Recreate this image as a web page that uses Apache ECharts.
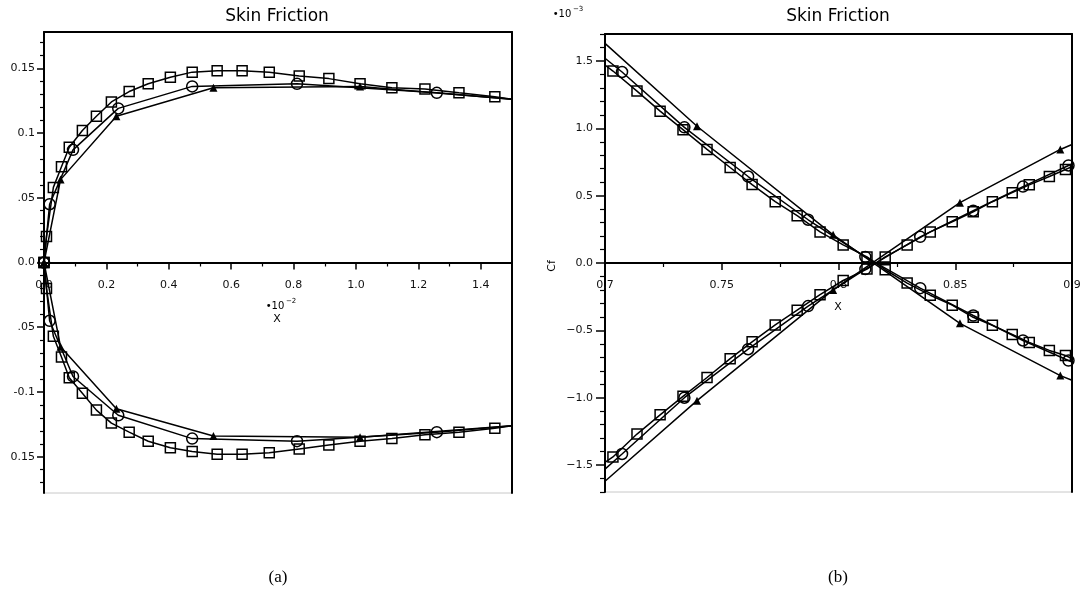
<!DOCTYPE html>
<html>
<head>
<meta charset="utf-8">
<script src="https://cdn.jsdelivr.net/npm/echarts@6/dist/echarts.min.js"></script>
<style>
  html, body { margin: 0; padding: 0; background: #fff; }
  #chart { width: 1086px; height: 610px; }
</style>
</head>
<body>
<div id="chart"></div>
<script>
// (a) skin friction vs x (*10^-2), fine / medium / coarse grid
const aFineX = [0, 0.008, 0.030, 0.056, 0.081, 0.123, 0.168, 0.216, 0.273, 0.334, 0.405, 0.475, 0.555, 0.635, 0.722, 0.818, 0.913, 1.013, 1.115, 1.221, 1.330, 1.445, 1.5];
const aFineUp = [0, 0.020, 0.058, 0.074, 0.089, 0.102, 0.113, 0.124, 0.132, 0.138, 0.143, 0.147, 0.148, 0.148, 0.147, 0.144, 0.142, 0.138, 0.135, 0.134, 0.131, 0.128, 0.126];
const aFineLo = [0, -0.020, -0.057, -0.073, -0.089, -0.101, -0.114, -0.124, -0.131, -0.138, -0.143, -0.146, -0.148, -0.148, -0.147, -0.144, -0.141, -0.138, -0.136, -0.133, -0.131, -0.128, -0.126];
const aMedX = [0, 0.018, 0.093, 0.238, 0.475, 0.811, 1.259, 1.5];
const aMedUp = [0, 0.045, 0.087, 0.119, 0.136, 0.138, 0.131, 0.126];
const aMedLo = [0, -0.045, -0.088, -0.118, -0.136, -0.138, -0.131, -0.126];
const aCoarseX = [0, 0.053, 0.232, 0.543, 1.013, 1.5];
const aCoarseUp = [0, 0.064, 0.113, 0.135, 0.136, 0.126];
const aCoarseLo = [0, -0.065, -0.113, -0.134, -0.135, -0.126];

// (b) zoom near x = 0.8 (Cf *10^-3)
const bFineX = [0.7, 0.7034, 0.7137, 0.7236, 0.7334, 0.7437, 0.7536, 0.763, 0.7729, 0.7823, 0.7921, 0.802, 0.8122, 0.82, 0.8294, 0.8393, 0.8487, 0.8577, 0.8659, 0.8744, 0.8817, 0.8903, 0.8972, 0.9];
const bFineDown = [1.47, 1.425, 1.276, 1.127, 0.99, 0.843, 0.709, 0.582, 0.455, 0.351, 0.231, 0.134, 0.045, -0.05, -0.149, -0.239, -0.313, -0.403, -0.463, -0.53, -0.59, -0.649, -0.687, -0.71];
const bFineRise = [-1.48, -1.44, -1.27, -1.127, -0.99, -0.85, -0.71, -0.585, -0.46, -0.35, -0.235, -0.13, -0.045, 0.045, 0.134, 0.231, 0.306, 0.38, 0.455, 0.522, 0.58, 0.642, 0.694, 0.715];
const bMedX = [0.7, 0.7073, 0.734, 0.7613, 0.787, 0.8115, 0.835, 0.8577, 0.879, 0.8985, 0.9];
const bMedDown = [1.52, 1.418, 1.007, 0.642, 0.321, 0.045, -0.187, -0.39, -0.575, -0.724, -0.735];
const bMedRise = [-1.53, -1.418, -1.0, -0.64, -0.32, -0.045, 0.194, 0.388, 0.567, 0.724, 0.735];
const bCoarseX = [0.7, 0.7394, 0.7977, 0.852, 0.895, 0.9];
const bCoarseDown = [1.63, 1.015, 0.209, -0.448, -0.836, -0.87];
const bCoarseRise = [-1.62, -1.022, -0.2, 0.448, 0.843, 0.88];

// tick labels
const aYTicks = [-0.15, -0.1, -0.05, 0, 0.05, 0.1, 0.15];
const aYText = ['0.15', '-0.1', '.05', '0.0', '.05', '0.1', '0.15'];
const bYTicks = [-1.5, -1.0, -0.5, 0, 0.5, 1.0, 1.5];
const bYText = ['\u22121.5', '\u22121.0', '\u22120.5', '0.0', '0.5', '1.0', '1.5'];

const AMIN = -0.178, AMAX = 0.178;
const BMIN = -1.7, BMAX = 1.7;

const aMinor = [];
for (let i = -17; i <= 17; i++) if (i % 5 !== 0) aMinor.push(i / 100);
const bMinor = [];
for (let i = -17; i <= 17; i++) if (i % 5 !== 0) bMinor.push(i / 10);

const FONT = 'DejaVu Sans';

function pts(xs, ys, hi, lo) {
  return xs.map((x, i) => (x >= hi || x <= lo) ? { value: [x, ys[i]], symbol: 'none' } : [x, ys[i]]);
}

function line(data, xi, yi, kind) {
  const s = {
    type: 'line', data, xAxisIndex: xi, yAxisIndex: yi,
    lineStyle: { color: '#000', width: 1.5 },
    showAllSymbol: true, animation: false, z: 3
  };
  if (kind === 'sq') {
    s.symbol = 'rect'; s.symbolSize = 10;
    s.itemStyle = { color: 'rgba(0,0,0,0)', borderColor: '#000', borderWidth: 1.5 };
  } else if (kind === 'ci') {
    s.symbol = 'circle'; s.symbolSize = 11;
    s.itemStyle = { color: 'rgba(0,0,0,0)', borderColor: '#000', borderWidth: 1.5 };
  } else {
    s.symbol = 'triangle'; s.symbolSize = 8;
    s.itemStyle = { color: '#000', borderColor: '#000', borderWidth: 0 };
  }
  return s;
}

function border(gi, pos, min, max) {
  return {
    type: 'value', gridIndex: gi, position: pos, min, max,
    axisLine: { show: true, onZero: false, lineStyle: { color: '#000', width: 2 } },
    axisTick: { show: false }, axisLabel: { show: false }, splitLine: { show: false }
  };
}

const chart = echarts.init(document.getElementById('chart'), null, { renderer: 'canvas' });

chart.setOption({
  animation: false,
  backgroundColor: '#fff',
  grid: [
    { left: 44, top: 32, width: 468, height: 461, show: true, borderColor: '#c8c8c8', borderWidth: 1 },
    { left: 605, top: 34, width: 467, height: 458, show: true, borderColor: '#c8c8c8', borderWidth: 1 }
  ],
  xAxis: [
    {
      type: 'value', gridIndex: 0, position: 'bottom', offset: -230.5, min: 0, max: 1.5, interval: 0.2,
      axisLine: { onZero: false, lineStyle: { color: '#000', width: 2 } },
      axisTick: { length: 7, lineStyle: { color: '#000', width: 1.5 } },
      minorTick: { show: true, splitNumber: 2, length: 4, lineStyle: { color: '#000', width: 1.2 } },
      axisLabel: { margin: 17, showMaxLabel: false, fontFamily: FONT, fontSize: 11, color: '#111', formatter: v => v.toFixed(1) },
      splitLine: { show: false }
    },
    border(0, 'top', 0, 1.5),
    {
      type: 'value', gridIndex: 1, position: 'bottom', offset: -229, min: 0.7, max: 0.9, interval: 0.05,
      axisLine: { onZero: false, lineStyle: { color: '#000', width: 2 } },
      axisTick: { length: 7, lineStyle: { color: '#000', width: 1.5 } },
      minorTick: { show: true, splitNumber: 2, length: 4, lineStyle: { color: '#000', width: 1.2 } },
      axisLabel: { margin: 17, fontFamily: FONT, fontSize: 11, color: '#111', formatter: v => String(parseFloat(v.toFixed(3))) },
      splitLine: { show: false }
    },
    border(1, 'top', 0.7, 0.9)
  ],
  yAxis: [
    {
      type: 'value', gridIndex: 0, position: 'left', min: AMIN, max: AMAX,
      axisLine: { show: true, onZero: false, lineStyle: { color: '#000', width: 2 } },
      axisTick: { show: true, length: 7, customValues: aYTicks, lineStyle: { color: '#000', width: 1.5 } },
      axisLabel: {
        show: true, margin: 9, customValues: aYTicks, fontFamily: FONT, fontSize: 11, color: '#111',
        formatter: v => aYText[aYTicks.findIndex(t => Math.abs(t - v) < 1e-6)]
      },
      splitLine: { show: false }
    },
    {
      type: 'value', gridIndex: 0, position: 'left', min: AMIN, max: AMAX,
      axisLine: { show: false, onZero: false },
      axisTick: { show: true, length: 4, customValues: aMinor, lineStyle: { color: '#000', width: 1.2 } },
      axisLabel: { show: false }, splitLine: { show: false }
    },
    border(0, 'right', AMIN, AMAX),
    {
      type: 'value', gridIndex: 1, position: 'left', min: BMIN, max: BMAX,
      axisLine: { show: true, onZero: false, lineStyle: { color: '#000', width: 2 } },
      axisTick: { show: true, length: 9, customValues: bYTicks, lineStyle: { color: '#000', width: 1.5 } },
      axisLabel: {
        show: true, margin: 12, customValues: bYTicks, fontFamily: FONT, fontSize: 11, color: '#111',
        formatter: v => bYText[bYTicks.findIndex(t => Math.abs(t - v) < 1e-6)]
      },
      splitLine: { show: false }
    },
    {
      type: 'value', gridIndex: 1, position: 'left', min: BMIN, max: BMAX,
      axisLine: { show: false, onZero: false },
      axisTick: { show: true, length: 5, customValues: bMinor, lineStyle: { color: '#000', width: 1.2 } },
      axisLabel: { show: false }, splitLine: { show: false }
    },
    border(1, 'right', BMIN, BMAX)
  ],
  series: [
    line(pts(aFineX, aFineUp, 1.5, -1), 0, 0, 'sq'),
    line(pts(aFineX, aFineLo, 1.5, -1), 0, 0, 'sq'),
    line(pts(aMedX, aMedUp, 1.5, -1), 0, 0, 'ci'),
    line(pts(aMedX, aMedLo, 1.5, -1), 0, 0, 'ci'),
    line(pts(aCoarseX, aCoarseUp, 1.5, -1), 0, 0, 'tr'),
    line(pts(aCoarseX, aCoarseLo, 1.5, -1), 0, 0, 'tr'),
    line(pts(bFineX, bFineDown, 0.9, 0.7), 2, 3, 'sq'),
    line(pts(bFineX, bFineRise, 0.9, 0.7), 2, 3, 'sq'),
    line(pts(bMedX, bMedDown, 0.9, 0.7), 2, 3, 'ci'),
    line(pts(bMedX, bMedRise, 0.9, 0.7), 2, 3, 'ci'),
    line(pts(bCoarseX, bCoarseDown, 0.9, 0.7), 2, 3, 'tr'),
    line(pts(bCoarseX, bCoarseRise, 0.9, 0.7), 2, 3, 'tr')
  ],
  graphic: [
    { type: 'text', x: 277, y: 17, style: { text: 'Skin Friction', font: '17px "DejaVu Sans"', fill: '#000', textAlign: 'center', textVerticalAlign: 'middle' } },
    { type: 'text', x: 838, y: 17, style: { text: 'Skin Friction', font: '17px "DejaVu Sans"', fill: '#000', textAlign: 'center', textVerticalAlign: 'middle' } },
    { type: 'text', x: 275, y: 306, style: { text: '\u202210', font: '10px "DejaVu Sans"', fill: '#000', textAlign: 'center', textVerticalAlign: 'middle' } },
    { type: 'text', x: 286, y: 301, style: { text: '\u22122', font: '7px "DejaVu Sans"', fill: '#000', textAlign: 'left', textVerticalAlign: 'middle' } },
    { type: 'text', x: 277, y: 319, style: { text: 'X', font: '11px "DejaVu Sans"', fill: '#000', textAlign: 'center', textVerticalAlign: 'middle' } },
    { type: 'text', x: 838, y: 307, style: { text: 'X', font: '11px "DejaVu Sans"', fill: '#000', textAlign: 'center', textVerticalAlign: 'middle' } },
    { type: 'text', x: 562, y: 14, style: { text: '\u202210', font: '10px "DejaVu Sans"', fill: '#000', textAlign: 'center', textVerticalAlign: 'middle' } },
    { type: 'text', x: 573, y: 9, style: { text: '\u22123', font: '7px "DejaVu Sans"', fill: '#000', textAlign: 'left', textVerticalAlign: 'middle' } },
    { type: 'text', x: 552, y: 266, rotation: Math.PI / 2, style: { text: 'Cf', font: '11px "DejaVu Sans"', fill: '#000', textAlign: 'center', textVerticalAlign: 'middle' } },
    { type: 'text', x: 278, y: 578, style: { text: '(a)', font: '17px "Liberation Serif"', fill: '#000', textAlign: 'center', textVerticalAlign: 'middle' } },
    { type: 'text', x: 838, y: 578, style: { text: '(b)', font: '17px "Liberation Serif"', fill: '#000', textAlign: 'center', textVerticalAlign: 'middle' } }
  ]
});
</script>
</body>
</html>
